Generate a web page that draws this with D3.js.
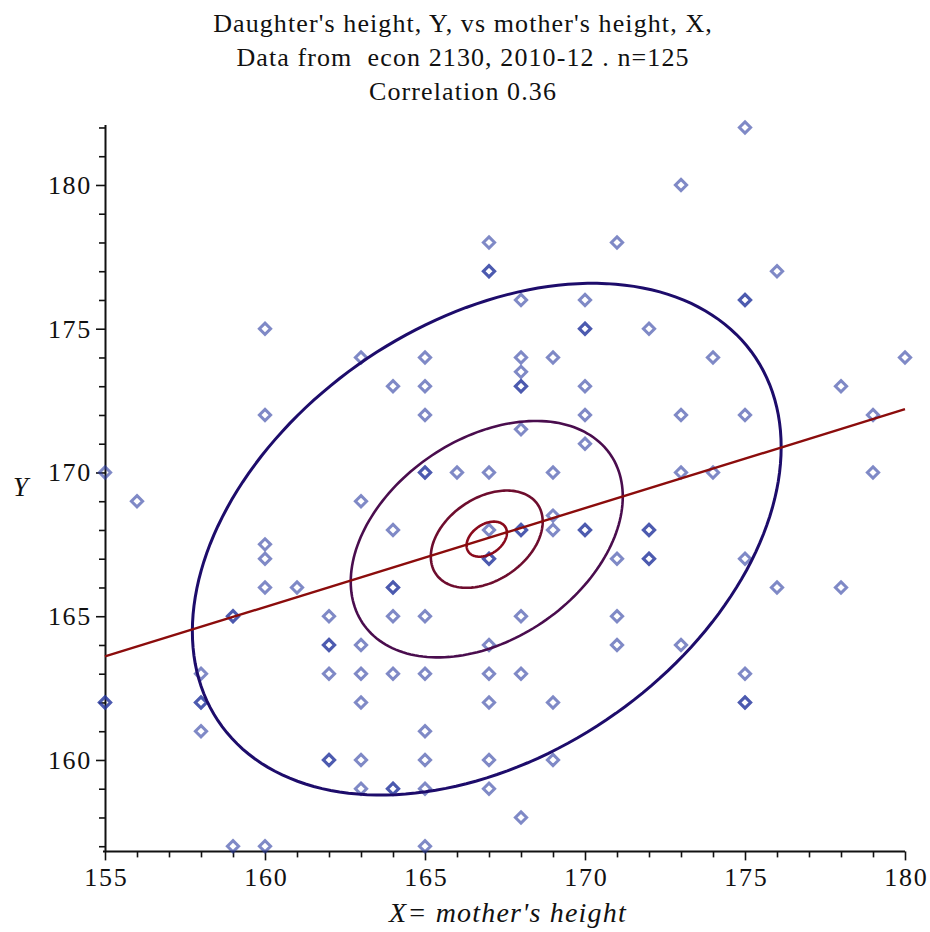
<!DOCTYPE html>
<html>
<head>
<meta charset="utf-8">
<script src="https://cdn.jsdelivr.net/npm/d3@7"></script>
<style>
  body { margin: 0; background: #fff; }
  svg text { font-family: "Liberation Serif", "DejaVu Serif", serif; fill: #111; }
</style>
</head>
<body>
<script>
// mother's height (X) and daughter's height (Y), one entry per student
var motherX = [
  175, 173, 167, 171, 167, 167, 176, 168, 170, 175, 175, 160, 170, 170, 172,
  163, 165, 168, 169, 174, 180, 168, 164, 165, 168, 168, 170, 178,
  160, 165, 170, 173, 175, 179, 168, 170,
  155, 165, 165, 166, 167, 169, 173, 174, 179,
  156, 163, 169,
  164, 167, 168, 168, 169, 170, 170, 172, 172, 160,
  160, 167, 167, 171, 172, 172, 175,
  160, 161, 164, 164, 176, 178,
  159, 159, 162, 164, 165, 168, 171,
  162, 162, 163, 167, 171, 173,
  158, 162, 163, 164, 165, 167, 168, 175,
  155, 155, 158, 158, 163, 167, 169, 175, 175,
  158, 165,
  162, 162, 163, 165, 167, 169,
  163, 164, 164, 165, 167,
  168,
  159, 160, 165
];
var daughterY = [
  182, 180, 178, 178, 177, 177, 177, 176, 176, 176, 176, 175, 175, 175, 175,
  174, 174, 174, 174, 174, 174, 173.5, 173, 173, 173, 173, 173, 173,
  172, 172, 172, 172, 172, 172, 171.5, 171,
  170, 170, 170, 170, 170, 170, 170, 170, 170,
  169, 169, 168.5,
  168, 168, 168, 168, 168, 168, 168, 168, 168, 167.5,
  167, 167, 167, 167, 167, 167, 167,
  166, 166, 166, 166, 166, 166,
  165, 165, 165, 165, 165, 165, 165,
  164, 164, 164, 164, 164, 164,
  163, 163, 163, 163, 163, 163, 163, 163,
  162, 162, 162, 162, 162, 162, 162, 162, 162,
  161, 161,
  160, 160, 160, 160, 160, 160,
  159, 159, 159, 159, 159,
  158,
  157, 157, 157
];

// regression line end points
var lineX = [155, 180];
var lineY = [163.6, 172.2];

// bivariate normal fit used for the density contours
var meanX = 166.93, meanY = 167.68;
var sdX = 4.6, sdY = 4.45, rho = 0.36;
var contourLevels = [2.0, 0.924, 0.38, 0.137];
var contourColors = ["#1d0c6b", "#4a0d4e", "#6e0d2e", "#8a0a1c"];

var xTicks = d3.range(155, 181);
var yTicks = d3.range(157, 183);

var titleLines = [
  "Daughter's height, Y, vs mother's height, X,",
  "Data from  econ 2130, 2010-12 . n=125",
  "Correlation 0.36"
];

var width = 930, height = 932;

var svg = d3.select("body").append("svg")
    .attr("width", width)
    .attr("height", height);

var x = d3.scaleLinear().domain([155, 180]).range([105, 905]);
var y = d3.scaleLinear().domain([156.82, 182.1]).range([851.4, 124.6]);

// title
svg.selectAll(".title")
    .data(titleLines)
  .enter().append("text")
    .attr("class", "title")
    .attr("x", 463)
    .attr("y", function(d, i) { return 32 + i * 34; })
    .attr("text-anchor", "middle")
    .style("font-size", "26px")
    .style("letter-spacing", "1.1px")
    .style("white-space", "pre")
    .attr("xml:space", "preserve")
    .text(function(d) { return d; });

// axes
var xAxis = d3.axisBottom(x)
    .tickValues(xTicks)
    .tickSize(6)
    .tickSizeOuter(0)
    .tickFormat(function(d) { return d % 5 === 0 ? d : ""; });

var yAxis = d3.axisLeft(y)
    .tickValues(yTicks)
    .tickSize(6)
    .tickSizeOuter(0)
    .tickFormat(function(d) { return d % 5 === 0 ? d : ""; });

var gx = svg.append("g")
    .attr("transform", "translate(0," + y.range()[0] + ")")
    .call(xAxis);
gx.select(".domain").attr("d", "M103,0H905").attr("stroke", "#111").attr("stroke-width", 2);
gx.selectAll(".tick line").attr("stroke", "#111").attr("stroke-width", 1.6)
    .attr("y2", function(d) { return d % 5 === 0 ? 9 : 6; });
gx.selectAll(".tick text")
    .attr("y", 16)
    .attr("dx", "0.8")
    .attr("dy", "0.71em")
    .style("font-size", "26px")
    .style("letter-spacing", "1.7px")
    .style("font-family", "Liberation Serif, serif")
    .attr("fill", "#111");

var gy = svg.append("g")
    .attr("transform", "translate(" + x(155) + ",0)")
    .call(yAxis);
gy.select(".domain").attr("stroke", "#111").attr("stroke-width", 2);
gy.selectAll(".tick line").attr("stroke", "#111").attr("stroke-width", 1.6)
    .attr("x2", function(d) { return d % 5 === 0 ? -9 : -6; });
gy.selectAll(".tick text")
    .attr("x", -13)
    .style("font-size", "26px")
    .style("letter-spacing", "1.7px")
    .style("font-family", "Liberation Serif, serif")
    .attr("fill", "#111");

// axis labels
svg.append("text")
    .attr("x", 13)
    .attr("y", 496)
    .style("font-size", "27px")
    .style("font-style", "italic")
    .text("Y");

svg.append("text")
    .attr("x", 508)
    .attr("y", 922)
    .attr("text-anchor", "middle")
    .style("font-size", "28px")
    .style("font-style", "italic")
    .style("letter-spacing", "1.2px")
    .text("X= mother's height");

// points as open diamonds
var points = motherX.map(function(d, i) { return [d, daughterY[i]]; });
var diamond = d3.symbol().type(d3.symbolDiamond2).size(80);

svg.append("g").selectAll("path")
    .data(points)
  .enter().append("path")
    .attr("transform", function(d) { return "translate(" + x(d[0]) + "," + y(d[1]) + ")"; })
    .attr("d", diamond)
    .attr("fill", "none")
    .attr("stroke", "#2a3aa0")
    .attr("stroke-width", 3)
    .attr("stroke-opacity", 0.6);

// density contours of the fitted bivariate normal
var angles = d3.range(0, 2 * Math.PI + 0.001, Math.PI / 90);
var contourLine = d3.line()
    .x(function(d) { return x(d[0]); })
    .y(function(d) { return y(d[1]); });

svg.append("g").selectAll("path")
    .data(contourLevels)
  .enter().append("path")
    .attr("d", function(k) {
      return contourLine(angles.map(function(t) {
        return [meanX + k * sdX * Math.cos(t),
                meanY + k * sdY * (rho * Math.cos(t) + Math.sqrt(1 - rho * rho) * Math.sin(t))];
      }));
    })
    .attr("fill", "none")
    .attr("stroke", function(d, i) { return contourColors[i]; })
    .attr("stroke-width", function(d, i) { return i === 0 ? 3 : 2.6; });

// regression line
svg.append("path")
    .attr("d", contourLine(lineX.map(function(d, i) { return [d, lineY[i]]; })))
    .attr("stroke", "#8b0c0c")
    .attr("stroke-width", 2.4)
    .attr("fill", "none");
</script>
</body>
</html>
